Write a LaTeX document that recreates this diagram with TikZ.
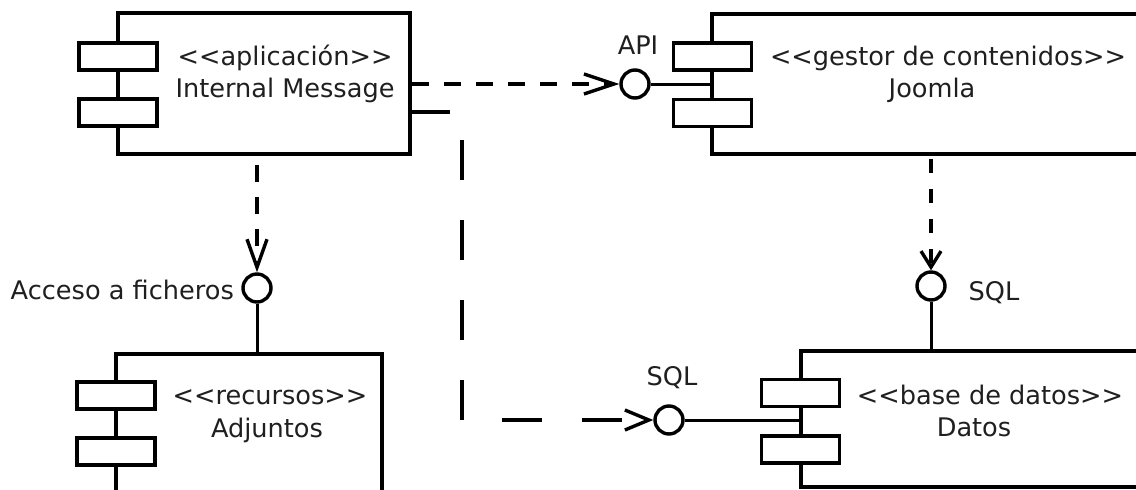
\documentclass[tikz,border=0pt]{standalone}
\usepackage{fontspec}
\setmainfont{DejaVu Sans}
\usetikzlibrary{arrows.meta}
\begin{document}
\begin{tikzpicture}[x=1pt,y=-1pt,
  every node/.style={font=\fontsize{25.6}{30}\selectfont},
  comp/.style={draw,line width=3.6pt,fill=white,inner sep=0pt},
  smallrect/.style={draw,line width=3.6pt,fill=white,minimum width=78pt,minimum height=27pt,inner sep=0pt},
  iface/.style={draw,circle,line width=3.4pt,fill=white,minimum size=28pt,inner sep=0pt},
  txt/.style={inner sep=0pt,text=black!88},
  dep/.style={line width=3.4pt,dash pattern=on 17pt off 15pt},
  longdep/.style={line width=3.4pt,dash pattern=on 40pt off 40pt},
  wire/.style={line width=3pt}]
\useasboundingbox (0,0) rectangle (1136,490);
\clip (0,0) rectangle (1136,490);

% components
\node[comp,minimum width=292pt,minimum height=141pt] (im) at (264,83.5) {};
\node[comp,minimum width=448pt,minimum height=140pt] (jo) at (936,84) {};
\node[comp,minimum width=266pt,minimum height=156pt] (adj) at (249,432) {};
\node[comp,minimum width=359pt,minimum height=136pt] (da) at (980.5,419) {};

\node[smallrect] (im1) at (118,56.5) {};
\node[smallrect] (im2) at (118,112.5) {};
\node[smallrect] (jo1) at (712.5,56.5) {};
\node[smallrect] (jo2) at (712.5,113) {};
\node[smallrect] (adj1) at (116,395.5) {};
\node[smallrect] (adj2) at (116,451.5) {};
\node[smallrect] (da1) at (800.5,393) {};
\node[smallrect] (da2) at (800.5,449.5) {};

% texts
\node[txt] (imt1) at (285,58) {{<}{<}aplicación{>}{>}};
\node[txt] (imt2) at (285,90) {Internal Message};
\node[txt] (jot1) at (948,58) {{<}{<}gestor de contenidos{>}{>}};
\node[txt] (jot2) at (932,90) {Joomla};
\node[txt] (adjt1) at (270,397) {{<}{<}recursos{>}{>}};
\node[txt] (adjt2) at (267,430) {Adjuntos};
\node[txt] (dat1) at (990,395) {{<}{<}base de datos{>}{>}};
\node[txt] (dat2) at (974,427) {Datos};

% interfaces
\node[iface] (api) at (635,84) {};
\node[iface] (acc) at (257,288) {};
\node[iface] (sqlj) at (931,286) {};
\node[iface] (sqld) at (669,420) {};

\node[txt] (apil) at (638,45) {API};
\node[txt,anchor=east] (accl) at (234,290) {Acceso a ficheros};
\node[txt] (sqljl) at (994,293) {SQL};
\node[txt] (sqldl) at (672,378) {SQL};

% connectors
\draw[dep,-{Straight Barb[length=30pt,width=20pt]}] (im.east |- api) -- (api);
\draw[wire] (api) -- (api -| jo.west);

\draw[dep,dash phase=23pt,-{Straight Barb[length=28pt,width=20pt]}] (acc |- im.south) -- (acc);
\draw[wire] (acc) -- (acc |- adj.north);

\draw[dep,dash pattern=on 14pt off 16pt,dash phase=27pt,-{Straight Barb[length=16pt,width=20pt]}] (sqlj |- jo.south) -- (sqlj);
\draw[wire] (sqlj) -- (sqlj |- da.north);

\coordinate (import) at (410,112);
\coordinate (bend) at (462,420);
\draw[longdep,-{Straight Barb[length=24pt,width=20pt]}] (import) -| (bend) -- (sqld);
\draw[wire] (sqld) -- (sqld -| da.west);
\end{tikzpicture}
\end{document}
